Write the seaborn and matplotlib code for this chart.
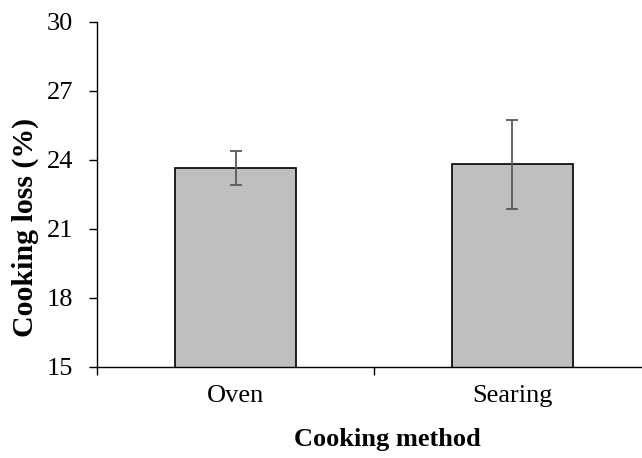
import seaborn as sns
import pandas as pd
import matplotlib.pyplot as plt

# values
methods = ["Oven", "Searing"]
loss = [23.65, 23.81]
loss_err = [0.75, 1.93]
y_ticks = [15, 18, 21, 24, 27, 30]

sns.set_theme(style="ticks")
plt.rcParams["font.family"] = ["Liberation Serif", "DejaVu Serif"]
plt.rcParams["text.color"] = "black"
plt.rcParams["axes.labelcolor"] = "black"
plt.rcParams["xtick.color"] = "black"
plt.rcParams["ytick.color"] = "black"

fig = plt.figure(figsize=(6.42, 4.58), dpi=100)
ax = fig.add_axes([0.1511, 0.1987, 0.8629, 0.7533])

df = pd.DataFrame({"method": methods, "loss": loss})

sns.barplot(data=df, x="method", y="loss", color="#bfbfbf", saturation=1,
            edgecolor="black", linewidth=1.2, width=0.44, errorbar=None, ax=ax)
ax.errorbar(x=range(len(methods)), y=loss, yerr=loss_err, fmt="none",
            ecolor="#595959", elinewidth=1.3, capsize=4, capthick=1.3, zorder=5)

ax.set_ylim(15, 30)
ax.set_yticks(y_ticks)
ax.set_xlim(-0.5, 1.5)

sns.despine(ax=ax)
for side in ["left", "bottom"]:
    ax.spines[side].set_color("black")
    ax.spines[side].set_linewidth(1.0)

ax.tick_params(axis="y", length=6, width=1, pad=11, labelsize=19, direction="out")
ax.tick_params(axis="x", which="major", length=0, pad=13, labelsize=19)
ax.set_xticks([-0.5, 0.5, 1.5], minor=True)
ax.tick_params(axis="x", which="minor", length=6, width=1, direction="out")

# reference crops this label at the bottom edge; keep it just inside
ax.set_xlabel("Cooking method", fontsize=19, fontweight="bold")
ax.xaxis.set_label_coords(0.524, -0.178)
ax.set_ylabel("Cooking loss (%)", fontsize=21.5, fontweight="bold")
ax.yaxis.set_label_coords(-0.104, 0.404)

fig.savefig("out.png", dpi=100)
